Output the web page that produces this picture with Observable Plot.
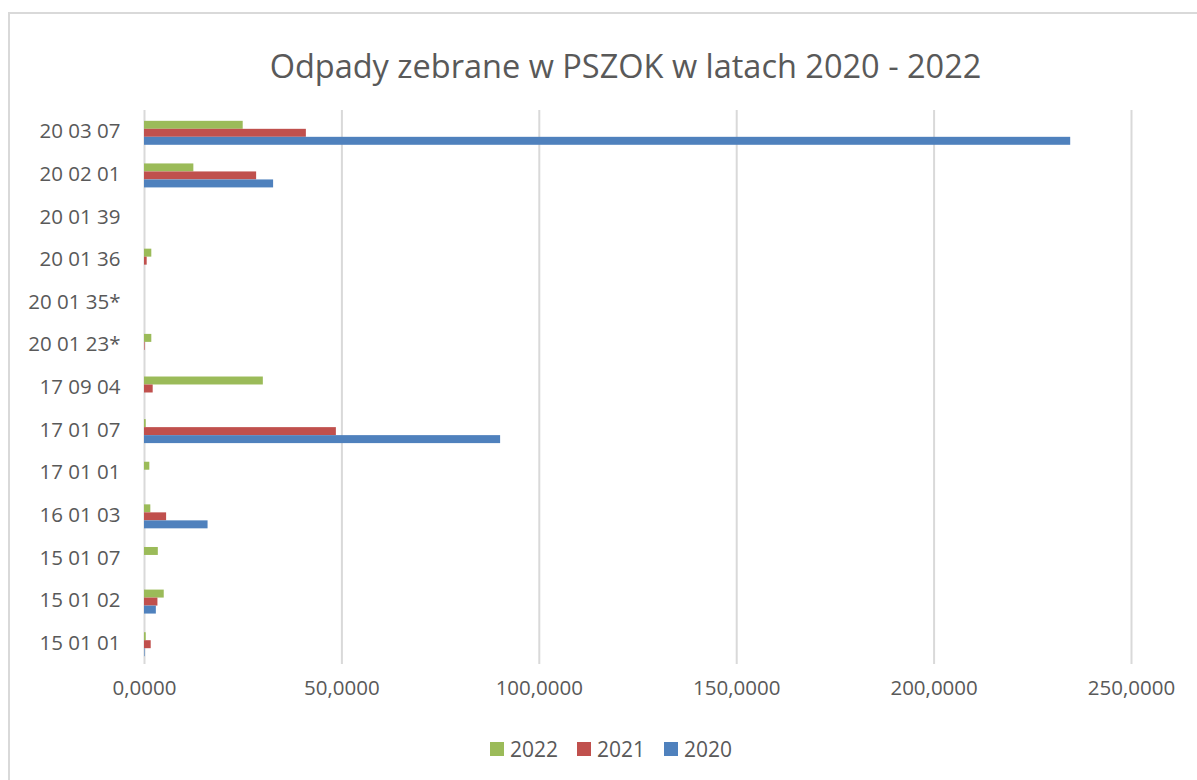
<!DOCTYPE html>
<html>
<head>
<meta charset="utf-8">
<script src="https://cdn.jsdelivr.net/npm/d3@7"></script>
<script src="https://cdn.jsdelivr.net/npm/@observablehq/plot@0.6"></script>
<style>
  html, body { margin: 0; padding: 0; background: #fff; overflow: hidden; }
  body { width: 1197px; height: 780px; position: relative; font-family: "Open Sans", sans-serif; }
  #frame { position: absolute; left: 8px; top: 12px; width: 1300px; height: 900px;
           border-top: 2px solid #d9d9d9; border-left: 2px solid #d9d9d9; box-sizing: border-box; }
  #title { position: absolute; left: 0; width: 1251px; top: 42px; text-align: center;
           font-size: 32.5px; color: #595959; line-height: 48px; }
  #chart { position: absolute; left: 0; top: 100px; }
  #legend { position: absolute; top: 734px; left: 0; width: 1222px; height: 30px; display: flex; justify-content: center;
            gap: 19px; font-size: 21px; color: #595959; line-height: 30px; }
  .item { display: flex; align-items: center; gap: 6px; }
  .sw { width: 14px; height: 14px; display: inline-block; }
</style>
</head>
<body>
<div id="frame"></div>
<div id="title">Odpady zebrane w PSZOK w latach 2020 - 2022</div>
<div id="chart"></div>
<div id="legend"></div>
<script>
// Waste codes (top to bottom)
const categories = ["20 03 07", "20 02 01", "20 01 39", "20 01 36", "20 01 35*", "20 01 23*",
                    "17 09 04", "17 01 07", "17 01 01", "16 01 03", "15 01 07", "15 01 02", "15 01 01"];
const v2022 = [25.0, 12.5, 0, 1.85, 0, 1.85, 30.1, 0.43, 1.35, 1.6, 3.5, 5.0, 0.43];
const v2021 = [41.0, 28.4, 0, 0.68, 0, 0.15, 2.2, 48.6, 0, 5.6, 0, 3.4, 1.7];
const v2020 = [234.6, 32.7, 0, 0, 0, 0, 0, 90.2, 0, 16.1, 0, 3.0, 0.15];
const years = ["2022", "2021", "2020"];
const colors = ["#9bbb59", "#c0504d", "#4f81bd"];
const xTicks = [0, 50, 100, 150, 200, 250];

const series = [v2022, v2021, v2020];
const rows = years.map((yr, i) => categories.map((c, j) => ({code: c, year: yr, value: series[i][j]})));

const pl = d3.formatLocale({decimal: ",", thousands: " ", grouping: [3], currency: ["", " zł"]});
const fmt = pl.format(".4f");

const bandInsets = [{insetTop: 0, insetBottom: 16}, {insetTop: 8, insetBottom: 8}, {insetTop: 16, insetBottom: 0}];

const chart = Plot.plot({
  width: 1197,
  height: 620,
  marginLeft: 144,
  marginRight: 66,
  marginTop: 10,
  marginBottom: 56,
  style: {fontFamily: "Open Sans, sans-serif", fontSize: "20.5px", color: "#595959", background: "transparent"},
  x: {domain: [0, 250], ticks: xTicks, tickFormat: fmt, tickSize: 0, tickPadding: 16, label: null},
  y: {domain: categories, paddingInner: 0.4375, paddingOuter: 0.21875, round: false, tickSize: 0, tickPadding: 24, label: null},
  marks: [
    Plot.ruleX(xTicks, {stroke: "#d9d9d9", strokeWidth: 2}),
    ...rows.map((r, i) => Plot.barX(r.filter(d => d.value > 0), {
      x: "value", y: "code", fill: colors[i], dy: 1.5, ...bandInsets[i]
    }))
  ]
});
chart.querySelectorAll("text").forEach(t => t.setAttribute("fill", "#595959"));
document.getElementById("chart").appendChild(chart);

const legend = document.getElementById("legend");
years.forEach((yr, i) => {
  const it = document.createElement("div");
  it.className = "item";
  const sw = document.createElement("span");
  sw.className = "sw";
  sw.style.background = colors[i];
  it.appendChild(sw);
  it.appendChild(document.createTextNode(yr));
  legend.appendChild(it);
});
</script>
</body>
</html>
